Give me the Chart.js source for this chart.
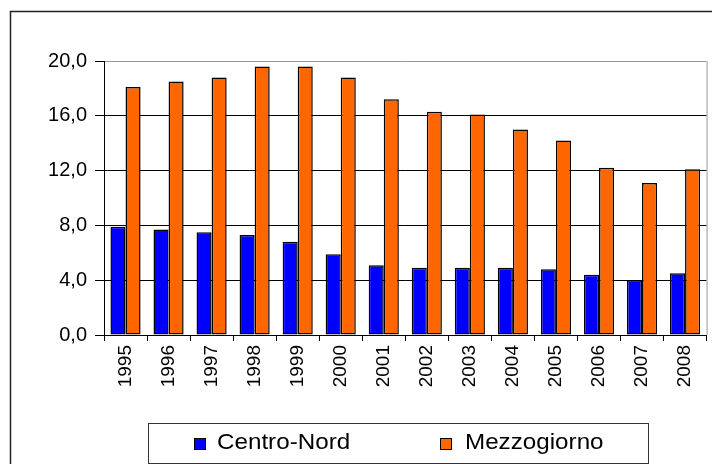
<!DOCTYPE html>
<html lang="it">
<head>
    <meta charset="UTF-8">
    <title>Centro-Nord e Mezzogiorno</title>
    <style>
        body {
            margin: 0;
            background: #fff;
        }
        #wrap {
            width: 712px;
            height: 464px;
            overflow: hidden;
        }
    </style>
    <script src="https://cdn.jsdelivr.net/npm/chart.js"></script>
</head>
<body>

    <div id="wrap">
        <canvas id="grafico" width="712" height="464"></canvas>
    </div>

    <script>
        // dati
        const anni = ['1995', '1996', '1997', '1998', '1999', '2000', '2001',
                      '2002', '2003', '2004', '2005', '2006', '2007', '2008'];
        const centroNord = [7.9, 7.7, 7.5, 7.3, 6.8, 5.9, 5.1, 4.9, 4.9, 4.9, 4.8, 4.4, 4.0, 4.5];
        const mezzogiorno = [18.1, 18.5, 18.8, 19.6, 19.6, 18.8, 17.2, 16.3, 16.1, 15.0, 14.2, 12.2, 11.1, 12.1];
        const tickAsseY = [0, 4, 8, 12, 16, 20];

        Chart.defaults.font.family = '"Liberation Sans", Arial, sans-serif';
        Chart.defaults.color = '#000';

        // cornice esterna, bordo destro dell'area e legenda in riquadro
        const cornice = {
            id: 'cornice',
            afterDraw(chart) {
                const ctx = chart.ctx;
                const area = chart.chartArea;
                ctx.save();

                ctx.strokeStyle = '#222';
                ctx.lineWidth = 1.5;
                ctx.beginPath();
                ctx.moveTo(10.5, chart.height);
                ctx.lineTo(10.5, 11.5);
                ctx.lineTo(chart.width, 11.5);
                ctx.stroke();

                ctx.strokeStyle = '#999';
                ctx.lineWidth = 1;
                ctx.beginPath();
                ctx.moveTo(area.right + 0.5, area.top);
                ctx.lineTo(area.right + 0.5, area.bottom);
                ctx.stroke();

                // legenda
                ctx.strokeStyle = '#333';
                ctx.lineWidth = 1;
                ctx.strokeRect(148.5, 423.5, 500, 40);

                const voci = [{ quadro: 194, testo: 217 }, { quadro: 440, testo: 465 }];
                ctx.font = '22px "Liberation Sans", Arial, sans-serif';
                ctx.textBaseline = 'middle';
                chart.data.datasets.forEach((ds, i) => {
                    const v = voci[i];
                    ctx.fillStyle = ds.backgroundColor;
                    ctx.fillRect(v.quadro, 438, 11, 11);
                    ctx.strokeStyle = '#000';
                    ctx.strokeRect(v.quadro + 0.5, 438.5, 11, 11);
                    ctx.fillStyle = '#000';
                    ctx.save();
                    ctx.translate(v.testo, 443);
                    ctx.scale(1.1, 1);
                    ctx.fillText(ds.label, 0, 0);
                    ctx.restore();
                });

                ctx.restore();
            }
        };

        new Chart(document.getElementById('grafico'), {
            type: 'bar',
            data: {
                labels: anni,
                datasets: [
                    {
                        label: 'Centro-Nord',
                        data: centroNord,
                        backgroundColor: '#0000FF',
                        borderColor: '#000',
                        borderWidth: 1.5,
                        borderSkipped: false,
                        inflateAmount: 0,
                        categoryPercentage: 0.7,
                        barPercentage: 1.0
                    },
                    {
                        label: 'Mezzogiorno',
                        data: mezzogiorno,
                        backgroundColor: '#FF6600',
                        borderColor: '#000',
                        borderWidth: 1.5,
                        borderSkipped: false,
                        inflateAmount: 0,
                        categoryPercentage: 0.7,
                        barPercentage: 1.0
                    }
                ]
            },
            options: {
                responsive: false,
                animation: false,
                layout: {
                    padding: { left: 47, top: 61, right: 4, bottom: 77 }
                },
                plugins: {
                    legend: { display: false },
                    tooltip: { enabled: false }
                },
                scales: {
                    x: {
                        afterFit(scale) {
                            scale.height = 52;
                        },
                        grid: {
                            offset: true,
                            drawOnChartArea: false,
                            color: '#000',
                            tickLength: 6
                        },
                        border: { color: '#000', width: 1 },
                        ticks: {
                            minRotation: 90,
                            maxRotation: 90,
                            padding: 4,
                            font: { size: 19 }
                        }
                    },
                    y: {
                        min: 0,
                        max: 20,
                        afterBuildTicks(scale) {
                            scale.ticks = tickAsseY.map(v => ({ value: v }));
                        },
                        afterFit(scale) {
                            scale.width = 57;
                        },
                        grid: {
                            color: c => (c.tick && c.tick.value === 20 ? '#999' : '#000'),
                            tickColor: '#000',
                            tickLength: 9
                        },
                        border: { color: '#000', width: 1 },
                        ticks: {
                            padding: 8,
                            font: { size: 20 },
                            callback: v => v.toFixed(1).replace('.', ',')
                        }
                    }
                }
            },
            plugins: [cornice]
        });
    </script>

</body>
</html>
